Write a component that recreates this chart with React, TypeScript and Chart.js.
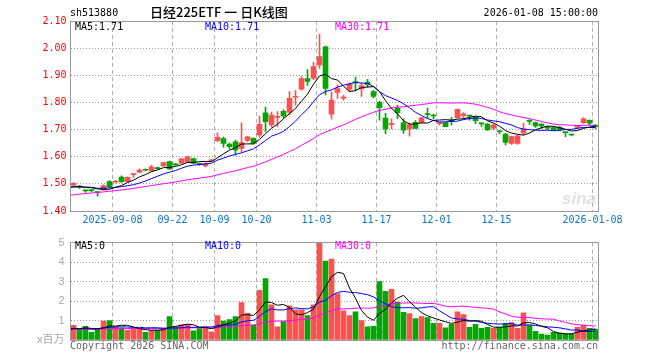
import React, { useEffect, useRef } from 'react';
import { Chart, registerables } from 'chart.js';
Chart.register(...registerables);

const MONO = '"DejaVu Sans Mono", "Liberation Mono", monospace';
const UP = '#ff5050';
const DOWN = '#00a800';
const FRAME = '#9a9a9a';
const HGRID = '#9a9a9a';
const VGRID = '#b0b0b0';
const XLABEL = '#0b75c9';

// ---------- data ----------
const dates = [
  '2025-08-28', '2025-08-29', '2025-09-01', '2025-09-02', '2025-09-03', '2025-09-04', '2025-09-05',
  '2025-09-08', '2025-09-09', '2025-09-10', '2025-09-11', '2025-09-12',
  '2025-09-15', '2025-09-16', '2025-09-17', '2025-09-18', '2025-09-19',
  '2025-09-22', '2025-09-23', '2025-09-24', '2025-09-25', '2025-09-26', '2025-09-29', '2025-09-30',
  '2025-10-09', '2025-10-10', '2025-10-13', '2025-10-14', '2025-10-15', '2025-10-16', '2025-10-17',
  '2025-10-20', '2025-10-21', '2025-10-22', '2025-10-23', '2025-10-24',
  '2025-10-27', '2025-10-28', '2025-10-29', '2025-10-30', '2025-10-31',
  '2025-11-03', '2025-11-04', '2025-11-05', '2025-11-06', '2025-11-07',
  '2025-11-10', '2025-11-11', '2025-11-12', '2025-11-13', '2025-11-14',
  '2025-11-17', '2025-11-18', '2025-11-19', '2025-11-20', '2025-11-21',
  '2025-11-24', '2025-11-25', '2025-11-26', '2025-11-27', '2025-11-28',
  '2025-12-01', '2025-12-02', '2025-12-03', '2025-12-04', '2025-12-05',
  '2025-12-08', '2025-12-09', '2025-12-10', '2025-12-11', '2025-12-12',
  '2025-12-15', '2025-12-16', '2025-12-17', '2025-12-18', '2025-12-19',
  '2025-12-22', '2025-12-23', '2025-12-24', '2025-12-25', '2025-12-26',
  '2025-12-29', '2025-12-30', '2025-12-31',
  '2026-01-05', '2026-01-06', '2026-01-07', '2026-01-08',
];

const opens = [
  1.495, 1.492, 1.476, 1.477, 1.471, 1.478, 1.508, 1.506, 1.525, 1.508,
  1.534, 1.543, 1.553, 1.548, 1.559, 1.566, 1.582, 1.573, 1.576, 1.580,
  1.593, 1.574, 1.566, 1.585, 1.659, 1.667, 1.647, 1.655, 1.631, 1.660,
  1.668, 1.680, 1.762, 1.717, 1.745, 1.767, 1.764, 1.819, 1.849, 1.888,
  1.889, 1.938, 2.005, 1.757, 1.837, 1.816, 1.848, 1.877, 1.850, 1.875,
  1.840, 1.800, 1.742, 1.718, 1.778, 1.725, 1.702, 1.727, 1.726, 1.758,
  1.753, 1.722, 1.726, 1.734, 1.744, 1.751, 1.752, 1.745, 1.723, 1.720,
  1.705, 1.694, 1.683, 1.649, 1.649, 1.688, 1.732, 1.726, 1.720, 1.710,
  1.707, 1.709, 1.690, 1.681, 1.708, 1.725, 1.734, 1.716,
];
const highs = [
  1.505, 1.495, 1.477, 1.478, 1.472, 1.496, 1.512, 1.513, 1.530, 1.526,
  1.538, 1.555, 1.555, 1.568, 1.562, 1.580, 1.584, 1.576, 1.594, 1.602,
  1.595, 1.577, 1.578, 1.590, 1.688, 1.672, 1.650, 1.661, 1.725, 1.675,
  1.670, 1.750, 1.782, 1.764, 1.766, 1.773, 1.840, 1.844, 1.895, 1.921,
  1.948, 2.052, 2.008, 1.839, 1.865, 1.826, 1.872, 1.893, 1.872, 1.885,
  1.845, 1.805, 1.760, 1.740, 1.790, 1.740, 1.725, 1.733, 1.745, 1.779,
  1.757, 1.727, 1.728, 1.745, 1.776, 1.763, 1.753, 1.748, 1.724, 1.722,
  1.721, 1.697, 1.686, 1.676, 1.679, 1.723, 1.737, 1.728, 1.722, 1.713,
  1.710, 1.711, 1.690, 1.683, 1.715, 1.744, 1.736, 1.718,
];
const lows = [
  1.493, 1.483, 1.468, 1.470, 1.455, 1.476, 1.486, 1.503, 1.505, 1.506,
  1.524, 1.540, 1.548, 1.546, 1.553, 1.564, 1.553, 1.568, 1.574, 1.578,
  1.574, 1.568, 1.562, 1.582, 1.655, 1.635, 1.628, 1.606, 1.618, 1.655,
  1.646, 1.672, 1.692, 1.710, 1.710, 1.743, 1.754, 1.790, 1.845, 1.863,
  1.884, 1.925, 1.828, 1.738, 1.815, 1.808, 1.840, 1.842, 1.822, 1.855,
  1.817, 1.735, 1.685, 1.702, 1.740, 1.686, 1.676, 1.703, 1.723, 1.740,
  1.740, 1.716, 1.710, 1.717, 1.742, 1.741, 1.735, 1.722, 1.712, 1.697,
  1.700, 1.685, 1.643, 1.645, 1.645, 1.680, 1.719, 1.708, 1.703, 1.700,
  1.697, 1.698, 1.674, 1.677, 1.705, 1.722, 1.716, 1.703,
];
const closes = [
  1.502, 1.488, 1.474, 1.475, 1.468, 1.494, 1.490, 1.509, 1.508, 1.524,
  1.537, 1.551, 1.550, 1.563, 1.556, 1.578, 1.555, 1.570, 1.592, 1.600,
  1.576, 1.572, 1.574, 1.588, 1.671, 1.649, 1.637, 1.625, 1.652, 1.673,
  1.650, 1.719, 1.729, 1.753, 1.748, 1.750, 1.815, 1.822, 1.888, 1.877,
  1.932, 1.969, 1.852, 1.809, 1.851, 1.819, 1.868, 1.872, 1.862, 1.865,
  1.822, 1.781, 1.702, 1.721, 1.762, 1.698, 1.718, 1.704, 1.743, 1.755,
  1.750, 1.724, 1.711, 1.732, 1.775, 1.758, 1.750, 1.733, 1.721, 1.699,
  1.717, 1.692, 1.653, 1.674, 1.677, 1.702, 1.730, 1.713, 1.713, 1.705,
  1.699, 1.701, 1.689, 1.680, 1.713, 1.740, 1.724, 1.711,
];
// volume, millions of shares
const volumes = [
  0.75, 0.53, 0.70, 0.40, 0.53, 0.97, 1.00, 0.67, 0.62, 0.50,
  0.55, 0.58, 0.40, 0.50, 0.50, 0.63, 1.20, 0.67, 0.78, 0.78,
  0.47, 0.58, 0.63, 0.42, 1.25, 0.97, 1.05, 1.20, 1.92, 1.37,
  0.75, 2.55, 3.15, 1.80, 0.67, 0.95, 1.75, 1.55, 1.55, 1.25,
  1.80, 5.00, 4.05, 4.15, 2.38, 1.50, 1.25, 1.45, 1.00, 0.67,
  0.70, 3.00, 2.50, 2.60, 1.95, 1.42, 1.35, 1.10, 1.20, 1.15,
  0.85, 0.85, 0.62, 0.80, 1.45, 1.30, 0.65, 0.80, 0.60, 0.65,
  0.60, 0.65, 0.85, 0.90, 0.60, 1.40, 0.75, 0.45, 0.30, 0.25,
  0.40, 0.35, 0.30, 0.30, 0.65, 0.75, 0.60, 0.55,
];
// sessions before the visible window (estimated from where the MA lines start)
const priorCloses = [
  1.40, 1.41, 1.42, 1.41, 1.43, 1.42, 1.44, 1.43, 1.44, 1.45,
  1.44, 1.46, 1.45, 1.46, 1.47, 1.46, 1.47, 1.48, 1.47, 1.48,
  1.49, 1.48, 1.49, 1.50, 1.49, 1.48, 1.49, 1.48, 1.49,
];
const priorVolumes = [
  0.50, 0.60, 0.45, 0.55, 0.70, 0.50, 0.40, 0.60, 0.55, 0.65,
  0.50, 0.45, 0.60, 0.55, 0.50, 0.60, 0.70, 0.45, 0.50, 0.55,
  0.60, 0.50, 0.65, 0.55, 0.45, 0.60, 0.50, 0.55, 0.60,
];

const tickDates = ['2025-09-08', '2025-09-22', '2025-10-09', '2025-10-20', '2025-11-03', '2025-11-17', '2025-12-01', '2025-12-15', '2026-01-08'];
const tickLabels = ['2025-09-08', '09-22', '10-09', '10-20', '11-03', '11-17', '12-01', '12-15', '2026-01-08'];
const priceTicks = [1.4, 1.5, 1.6, 1.7, 1.8, 1.9, 2.0, 2.1];
const volumeTicks = [0, 1, 2, 3, 4, 5];
const volumeUnit = 'x百万';
const priceLegend = ['MA5:1.71', 'MA10:1.71', 'MA30:1.71'];
const volumeLegend = ['MA5:0', 'MA10:0', 'MA30:0'];
const maPeriods = [5, 10, 30];
const maColors = ['#000000', '#0000ff', '#ff00ff'];

// ---------- helpers ----------
// moving average for every session of prior+values, returned from the last prior session on
function movingAvg(values: number[], prior: number[], n: number) {
  const all = prior.concat(values);
  const out: number[] = [];
  for (let end = prior.length - 1; end < all.length; end++) {
    const start = Math.max(0, end - n + 1);
    let s = 0;
    for (let k = start; k <= end; k++) s += all[k];
    out.push(s / (end - start + 1));
  }
  return out; // out[0] belongs to the session just before dates[0]
}

const framePlugin = {
  id: 'frame',
  afterDatasetsDraw(chart: any) {
    const { ctx, chartArea: a } = chart;
    const l = Math.floor(a.left) + 0.5;
    const r = Math.floor(a.right) + 0.5;
    const t = Math.floor(a.top) + 0.5;
    const b = Math.floor(a.bottom) + 0.5;
    ctx.save();
    ctx.strokeStyle = FRAME;
    ctx.lineWidth = 1;
    ctx.setLineDash([]);
    ctx.strokeRect(l, t, r - l, b - t);
    ctx.restore();
  },
};

const txt = (extra: any) => ({
  position: 'absolute' as const,
  fontFamily: MONO,
  fontSize: 10,
  lineHeight: '12px',
  whiteSpace: 'pre' as const,
  color: '#000',
  ...extra,
});

export default function App() {
  const priceRef = useRef<HTMLCanvasElement>(null);
  const volRef = useRef<HTMLCanvasElement>(null);

  useEffect(() => {
    const xs = dates.map((_, i) => i + 0.5);
    const colors = closes.map((c, i) => (c >= opens[i] ? UP : DOWN));
    const tickIdx = tickDates.map((d) => dates.indexOf(d));

    const xScale = (showLabels: boolean) => ({
      type: 'linear' as const,
      min: 0,
      max: dates.length,
      offset: false,
      afterBuildTicks: (s: any) => {
        s.ticks = tickIdx.map((v) => ({ value: v }));
      },
      afterFit: (s: any) => {
        s.height = showLabels ? 19 : 0;
      },
      grid: { color: VGRID, lineWidth: 1, drawTicks: false, offset: false },
      border: { display: false, dash: [4, 3] },
      ticks: {
        display: showLabels,
        autoSkip: false,
        maxRotation: 0,
        minRotation: 0,
        padding: 3,
        color: XLABEL,
        font: { family: MONO, size: 10 },
        callback: (_v: any, i: number) => tickLabels[i],
      },
    });

    const maLine = (m: number[], k: number) => ({
      type: 'line' as const,
      data: m.map((y, j) => ({ x: j - 0.5, y })),
      borderColor: maColors[k],
      borderWidth: 1,
      pointRadius: 0,
      tension: 0,
      order: 0,
    });

    const priceMAs = maPeriods.map((n) => movingAvg(closes, priorCloses, n));
    const volMAs = maPeriods.map((n) => movingAvg(volumes, priorVolumes, n));

    const c1 = new Chart(priceRef.current as HTMLCanvasElement, {
      type: 'bar',
      data: {
        datasets: [
          ...priceMAs.map(maLine),
          {
            type: 'bar' as const,
            data: xs.map((x, i) => ({ x, y: [opens[i], closes[i]] })),
            backgroundColor: colors,
            borderWidth: 0,
            barThickness: 5,
            minBarLength: 1,
            grouped: false,
            order: 1,
          },
          {
            type: 'bar' as const,
            data: xs.map((x, i) => ({ x, y: [lows[i], highs[i]] })),
            backgroundColor: colors,
            borderWidth: 0,
            barThickness: 1,
            minBarLength: 1,
            grouped: false,
            order: 2,
          },
        ] as any,
      },
      options: {
        responsive: false,
        animation: false,
        events: [],
        layout: { padding: { left: 0, right: 61.5, top: 21, bottom: 0 } },
        plugins: { legend: { display: false }, tooltip: { enabled: false } },
        scales: {
          x: xScale(true) as any,
          y: {
            type: 'linear',
            min: 1.4,
            max: 2.1,
            afterBuildTicks: (s: any) => {
              s.ticks = priceTicks.map((v) => ({ value: v }));
            },
            afterFit: (s: any) => {
              s.width = 70.5;
            },
            grid: { color: HGRID, lineWidth: 1, drawTicks: false },
            border: { display: false, dash: [1, 2] },
            ticks: {
              padding: 4,
              color: '#ff0000',
              font: { family: MONO, size: 10 },
              callback: (v: any) => Number(v).toFixed(2),
            },
          } as any,
        },
      },
      plugins: [framePlugin],
    });

    const c2 = new Chart(volRef.current as HTMLCanvasElement, {
      type: 'bar',
      data: {
        datasets: [
          ...volMAs.map(maLine),
          {
            type: 'bar' as const,
            data: xs.map((x, i) => ({ x, y: volumes[i] })),
            backgroundColor: colors,
            borderWidth: 0,
            barThickness: 5,
            grouped: false,
            order: 1,
          },
        ] as any,
      },
      options: {
        responsive: false,
        animation: false,
        events: [],
        layout: { padding: { left: 0, right: 61.5, top: 10, bottom: 20 } },
        plugins: { legend: { display: false }, tooltip: { enabled: false } },
        scales: {
          x: xScale(false) as any,
          y: {
            type: 'linear',
            min: 0,
            max: 5,
            afterBuildTicks: (s: any) => {
              s.ticks = volumeTicks.map((v) => ({ value: v }));
            },
            afterFit: (s: any) => {
              s.width = 70.5;
            },
            grid: { color: HGRID, lineWidth: 1, drawTicks: false },
            border: { display: false, dash: [1, 2] },
            ticks: {
              padding: 6,
              color: '#a8a8a8',
              font: { family: '"Liberation Sans", "Noto Sans CJK SC", sans-serif', size: 11 },
              callback: (v: any) => (Number(v) === 0 ? volumeUnit : String(v)),
            },
          } as any,
        },
      },
      plugins: [framePlugin],
    });

    return () => {
      c1.destroy();
      c2.destroy();
    };
  }, []);

  return (
    <div style={{ position: 'fixed', left: 0, top: 0, width: 660, height: 360, background: '#fff', overflow: 'hidden' }}>
      <canvas ref={priceRef} width={660} height={230} style={{ position: 'absolute', left: 0, top: 0 }} />
      <canvas ref={volRef} width={660} height={130} style={{ position: 'absolute', left: 0, top: 230 }} />

      <div style={txt({ left: 70, top: 7 })}>sh513880</div>
      <div style={txt({ left: 150, top: 4, fontFamily: '"Noto Sans CJK SC", sans-serif', fontSize: 13, lineHeight: '16px', fontWeight: 500 })}>
        日经225ETF 一 日K线图
      </div>
      <div style={txt({ right: 62, top: 7 })}>2026-01-08 15:00:00</div>

      <div style={txt({ left: 75, top: 21, color: maColors[0] })}>{priceLegend[0]}</div>
      <div style={txt({ left: 205, top: 21, color: maColors[1] })}>{priceLegend[1]}</div>
      <div style={txt({ left: 335, top: 21, color: maColors[2] })}>{priceLegend[2]}</div>

      <div style={txt({ left: 75, top: 240, color: maColors[0] })}>{volumeLegend[0]}</div>
      <div style={txt({ left: 205, top: 240, color: maColors[1] })}>{volumeLegend[1]}</div>
      <div style={txt({ left: 335, top: 240, color: maColors[2] })}>{volumeLegend[2]}</div>

      <div
        style={txt({
          left: 562, top: 190, fontFamily: '"Liberation Sans", sans-serif', fontSize: 17, lineHeight: '18px',
          fontStyle: 'italic', fontWeight: 'bold', color: '#e0e0e0',
        })}
      >
        sina
      </div>

      <div style={txt({ left: 70, top: 340, color: '#666' })}>Copyright 2026 SINA.COM</div>
      <div style={txt({ right: 62, top: 340, color: '#666' })}>http://finance.sina.com.cn</div>
    </div>
  );
}
